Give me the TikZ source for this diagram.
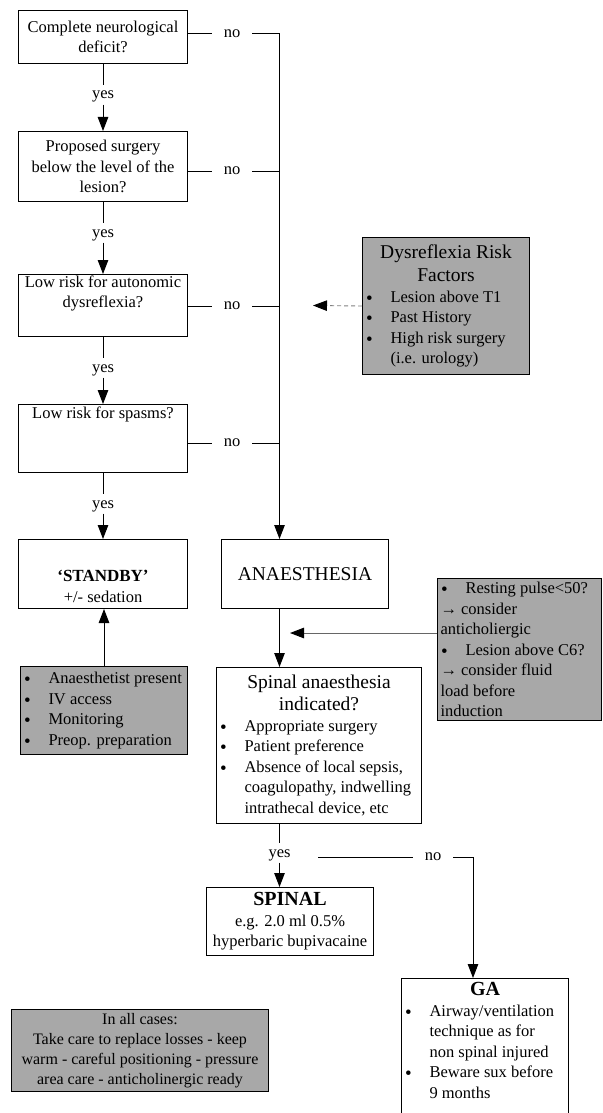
\documentclass[tikz,border=0pt]{standalone}
\usepackage{fontspec}
\setmainfont{Liberation Serif}
\usetikzlibrary{arrows.meta,calc}
\definecolor{shade}{gray}{0.66}
\newcommand\bd{\fontsize{16.5}{20.5}\selectfont}
\newcommand\hdr{\fontsize{19.5}{23}\selectfont}
\newcommand\bx[4][c]{\parbox[c][#3][#1]{\dimexpr#2-6pt\relax}{#4}}
\newcommand\bul{\makebox[25pt][l]{\hspace{0.5pt}\raisebox{-2pt}{\fontsize{19}{19}\selectfont\textbullet}}}
\newcommand\bit[1]{\par\hangindent=25pt\hangafter=1\noindent\bul#1\par}
\tikzset{
  qbox/.style={draw, line width=1pt, inner xsep=3pt, inner ysep=0pt, anchor=north west, font=\bd},
  gbox/.style={qbox, fill=shade},
  yesl/.style={font=\bd, text height=12pt, text depth=4pt, inner ysep=1.5pt, inner xsep=2pt},
  nol/.style={font=\bd, inner xsep=12pt, inner ysep=2pt},
  conn/.style={line width=1pt},
  arr/.style={conn, -{Triangle[length=14pt,width=10.5pt]}},
  garr/.style={-{Triangle[length=14pt,width=10.5pt,color=black]}},
}
\begin{document}
\begin{tikzpicture}[x=1pt,y=-1pt]
\useasboundingbox (0,0) rectangle (602,1113);
\clip (0,0) rectangle (602,1113);
\fill[white] (0,0) rectangle (602,1113);

% left column
\node[qbox] (b1) at (18,10) {\bx{169pt}{53pt}{\centering Complete neurological\\deficit?}};
\node[qbox] (b2) at (18,131) {\bx{169pt}{70pt}{\centering Proposed surgery\\below the level of the\\lesion?}};
\node[qbox] (b3) at (18,274) {\bx[t]{169pt}{62pt}{\vspace*{1pt}\centering Low risk for autonomic\\dysreflexia?}};
\node[qbox] (b4) at (18,404) {\bx[t]{169pt}{68pt}{\vspace*{2pt}\centering Low risk for spasms?}};
\node[qbox] (sb) at (18,539) {\bx[b]{169pt}{69pt}{\centering{\bfseries\fontsize{17}{20}\selectfont ‘STANDBY’}\\+/- sedation\par\vspace{6pt}}};
\node[gbox] (sg) at (20,666) {\bx{167pt}{88pt}{\raggedright\bit{\mbox{Anaesthetist present}}\bit{IV access}\bit{Monitoring}\bit{Preop. preparation}}};

% right side
\node[qbox] (an) at (221,539) {\bx{167pt}{69pt}{\centering\hdr ANAESTHESIA}};
\node[gbox] (dy) at (362,237) {\bx{167pt}{137pt}{{\centering\hdr Dysreflexia Risk\\Factors\par}\raggedright\bit{Lesion above T1}\bit{Past History}\bit{High risk surgery\newline(i.e. urology)}}};
\node[gbox] (rg) at (437,578) {\bx{164pt}{142pt}{\raggedright\bul Resting pulse<50?\\→ consider\\anticholiergic\\\bul Lesion above C6?\\→ consider fluid\\load before\\induction}};
\node[qbox] (sp) at (216,667) {\bx{205pt}{156pt}{{\centering\fontsize{19.5}{22}\selectfont Spinal anaesthesia\\indicated?\par}\raggedright\bit{Appropriate surgery}\bit{Patient preference}\bit{Absence of local sepsis,\newline coagulopathy, indwelling\newline intrathecal device, etc}}};
\node[qbox] (spl) at (206,887) {\bx{167pt}{68pt}{\centering{\bfseries\fontsize{20}{20}\selectfont SPINAL}\\e.g. 2.0 ml 0.5\%\\hyperbaric bupivacaine}};
\node[qbox] (ga) at (401,978) {\bx[t]{167pt}{160pt}{\vspace*{4pt}{\centering\bfseries\fontsize{20}{20}\selectfont GA\par}\raggedright\bit{Airway/ventilation\newline technique as for\newline non spinal injured}\bit{Beware sux before\newline 9 months}}};
\node[gbox] (ac) at (11,1009) {\bx{257pt}{82pt}{\fontsize{16}{20}\selectfont\centering In all cases:\\Take care to replace losses - keep\\warm - careful positioning - pressure\\area care - anticholinergic ready}};

% "no" branches to the vertical line
\coordinate (vx) at (279.5,34);
\node[nol] (n1) at (232,34) {no};
\node[nol] (n2) at (232,171) {no};
\node[nol] (n3) at (232,306) {no};
\node[nol] (n4) at (232,443) {no};
\draw[conn] (b1.east |- n1.west) -- (n1.west);
\draw[arr] (n1.east) -- (vx) -- (vx |- an.north);
\draw[conn] (b2.east |- n2.west) -- (n2.west);
\draw[conn] (n2.east) -- (vx |- n2.east);
\draw[conn] (b3.east |- n3.west) -- (n3.west);
\draw[conn] (n3.east) -- (vx |- n3.east);
\draw[conn] (b4.east |- n4.west) -- (n4.west);
\draw[conn] (n4.east) -- (vx |- n4.east);

% "yes" branches
\path (b1.south) ++(0,35) node[yesl,anchor=base] (y1) {yes};
\draw[conn] (b1.south) -- (y1.north);
\draw[arr] (y1.south) -- (b2.north);
\path (b2.south) ++(0,35) node[yesl,anchor=base] (y2) {yes};
\draw[conn] (b2.south) -- (y2.north);
\draw[arr] (y2.south) -- (b3.north);
\path (b3.south) ++(0,35) node[yesl,anchor=base] (y3) {yes};
\draw[conn] (b3.south) -- (y3.north);
\draw[arr] (y3.south) -- (b4.north);
\path (b4.south) ++(0,35) node[yesl,anchor=base] (y4) {yes};
\draw[conn] (b4.south) -- (y4.north);
\draw[arr] (y4.south) -- (sb.north);

% standby requirements
\draw[arr] (sg.north) -- (sg.north |- sb.south);

% dysreflexia risk factors (dashed)
\coordinate (dyt) at (313,305.5);
\draw[line width=0.9pt, draw=gray, dash pattern=on 4pt off 3pt, garr] (dy.west) -- (dyt);

% anaesthesia -> spinal indicated
\draw[arr] (vx |- an.south) -- (vx |- sp.north);
\coordinate (rgt) at (290,633);
\draw[line width=1pt, draw=gray!80!black, garr] (rg.west |- rgt) -- (rgt);

% spinal indicated -> yes / no
\path (vx |- sp.south) ++(0,33) node[yesl,anchor=base] (y5) {yes};
\draw[conn] (vx |- sp.south) -- (y5.north);
\draw[arr] (y5.south) -- (y5.south |- spl.north);
\node[nol] (n5) at (433,857) {no};
\coordinate (ns) at (318,857);
\draw[conn] (ns) -- (n5.west);
\coordinate (gx) at (473,857);
\draw[arr] (n5.east) -- (gx) -- (gx |- ga.north);
\end{tikzpicture}
\end{document}
